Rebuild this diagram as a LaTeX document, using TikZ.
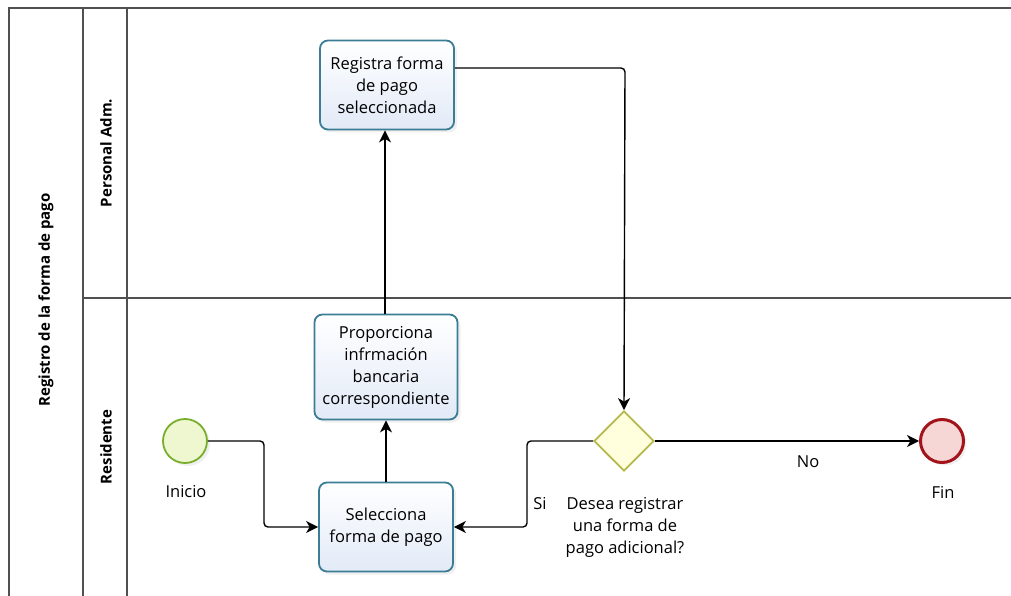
\documentclass[tikz,border=0pt]{standalone}
\usepackage{fontspec}
\setmainfont{Open Sans}
\usetikzlibrary{arrows.meta,shapes.geometric,shadows}

\definecolor{poolline}{HTML}{505050}
\definecolor{taskborder}{HTML}{3C7D96}
\definecolor{taskfill}{HTML}{E2EAF7}
\definecolor{startborder}{HTML}{78AE2C}
\definecolor{startfill}{HTML}{EEF7CF}
\definecolor{endborder}{HTML}{A3141A}
\definecolor{endfill}{HTML}{F7D6D6}
\definecolor{gwborder}{HTML}{B5B84A}
\definecolor{gwfill}{HTML}{FFFFDD}

\begin{document}
\begin{tikzpicture}[x=1pt,y=-1pt,
  pool/.style={draw=poolline, line width=1.4pt},
  task/.style={draw=taskborder, line width=1.8pt, rounded corners=8pt,
    top color=white, bottom color=taskfill, align=center,
    minimum width=134pt, minimum height=89pt, inner sep=2pt,
    font=\fontsize{16.5}{22}\selectfont,
    drop shadow={opacity=0.12, shadow xshift=3pt, shadow yshift=-3pt}},
  startev/.style={circle, draw=startborder, line width=1.8pt, fill=startfill,
    minimum size=44pt, inner sep=0pt,
    drop shadow={opacity=0.12, shadow xshift=3pt, shadow yshift=-3pt}},
  endev/.style={circle, draw=endborder, line width=3pt, fill=endfill,
    minimum size=43pt, inner sep=0pt,
    drop shadow={opacity=0.12, shadow xshift=3pt, shadow yshift=-3pt}},
  gateway/.style={diamond, aspect=1, draw=gwborder, line width=1.8pt, fill=gwfill,
    minimum size=60pt, inner sep=0pt},
  lbl/.style={font=\fontsize{16.5}{22}\selectfont, align=center, inner sep=0pt},
  header/.style={font=\bfseries\fontsize{15}{18}\selectfont, rotate=90, inner sep=0pt},
  flow/.style={draw=black, line width=1.4pt, rounded corners=4pt,
    -{Stealth[length=12pt,width=12pt,inset=3.5pt]}}
]
\useasboundingbox (0,0) rectangle (1011,596);

% pool and lane outlines
\draw[pool] (9,596) -- (9,8) -- (1011,8);
\draw[pool] (83,8) -- (83,596);
\draw[pool] (127,8) -- (127,596);
\draw[pool] (83,298) -- (1011,298);

% headers
\node[header] (pooltitle) at (46,300) {Registro de la forma de pago};
\node[header] (laneadm) at (106,153) {Personal Adm.};
\node[header] (laneres) at (106,447) {Residente};

% activities
\node[task] (registra) at (387,85) {Registra forma\\de pago\\seleccionada};
\node[task, minimum width=143pt, minimum height=105pt] (proporciona) at (386,367)
  {Proporciona\\infrmación\\bancaria\\correspondiente};
\node[task] (selecciona) at (386,527) {Selecciona\\forma de pago};

% events and gateway
\node[startev] (inicio) at (185,441) {};
\node[lbl] (inicioL) at (186,492) {Inicio};
\node[gateway] (gw) at (624,441) {};
\node[lbl] (gwL) at (625,527) {Desea registrar\\una forma de\\pago adicional?};
\node[endev] (fin) at (942,441) {};
\node[lbl] (finL) at (943,492) {Fin};

% sequence flows
\draw[flow] (inicio.east) -- (264,441) -- (264,527) -- (selecciona.west);
\draw[flow] (selecciona.north) -- (proporciona.south);
\draw[flow] (proporciona.north -| 385,0) -- (registra.south -| 385,0);
\draw[flow] (registra.east |- 0,68) -- (625,68) -- (gw.north);
\draw[flow] (gw.west) -- (527,441) -- (527,527) -- (selecciona.east);
\draw[flow] (gw.east) -- (fin.west);

\node[lbl] (si) at (540,504) {Si};
\node[lbl] (no) at (808,462) {No};
\end{tikzpicture}
\end{document}
